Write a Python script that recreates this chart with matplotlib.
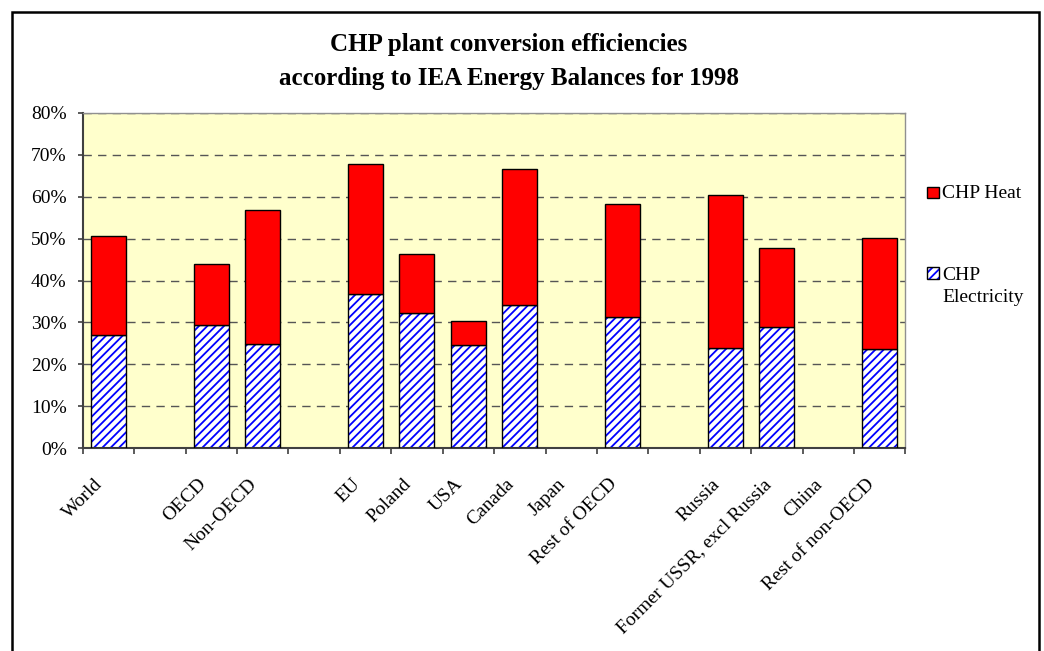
import numpy as np
import matplotlib
matplotlib.use("Agg")
import matplotlib.pyplot as plt
import matplotlib.transforms as mtransforms
from matplotlib.patches import Rectangle

# categories, blanks are the gaps between groups
categories = ["World", "", "OECD", "Non-OECD", "", "EU", "Poland", "USA", "Canada",
              "Japan", "Rest of OECD", "", "Russia", "Former USSR, excl Russia",
              "China", "Rest of non-OECD"]
# values in %, None = no bar
electricity = [27.0, None, 29.3, 24.9, None, 36.9, 32.3, 24.7, 34.2,
               None, 31.2, None, 23.8, 28.8, None, 23.6]
heat = [23.6, None, 14.6, 32.0, None, 30.9, 14.0, 5.6, 32.4,
        None, 27.1, None, 36.7, 19.0, None, 26.5]
y_ticks = [0, 10, 20, 30, 40, 50, 60, 70, 80]

W, H = 1044, 651
FS = 14
plt.rcParams["font.family"] = ["Liberation Serif", "DejaVu Serif"]
plt.rcParams["hatch.linewidth"] = 1.3


def fx(px):
    return px / W


def fy(py):
    return 1 - py / H


fig = plt.figure(figsize=(W / 100, H / 100), dpi=100)
ax = fig.add_axes([fx(82.7), fy(448.3), (905.5 - 82.7) / W, (448.3 - 112.7) / H])
ax.set_facecolor("#ffffcc")

x = np.arange(len(categories))
mask = np.array([v is not None for v in electricity])
xs = x[mask]
elec = np.array([v for v in electricity if v is not None])
ht = np.array([v for v in heat if v is not None])
width = 0.68

# hatched electricity part, drawn in two layers so the hatch is blue and the edge black
ax.bar(xs, elec, width, color="white", edgecolor="blue", hatch="////", linewidth=0, zorder=2)
ax.bar(xs, elec, width, fill=False, edgecolor="black", linewidth=1.0, zorder=3)
ax.bar(xs, ht, width, bottom=elec, color="red", edgecolor="black", linewidth=1.0, zorder=3)

ax.set_xlim(-0.5, len(categories) - 0.5)
ax.set_ylim(0, 80)
ax.set_yticks(y_ticks)
ax.set_yticklabels([f"{v}%" for v in y_ticks], fontsize=FS)
ax.yaxis.grid(True, color="#555555", linestyle=(0, (6, 4.5)), linewidth=1.0)
ax.set_axisbelow(True)

ax.set_xticks(x)
ax.set_xticklabels(categories, fontsize=FS, rotation=45, ha="right", va="center",
                   rotation_mode="anchor")
ax.tick_params(axis="x", which="major", length=0, pad=24)
shift = mtransforms.ScaledTranslation(-8 / 100, 0, fig.dpi_scale_trans)
for lbl in ax.get_xticklabels():
    lbl.set_transform(lbl.get_transform() + shift)
ax.set_xticks(np.arange(-0.5, len(categories), 1), minor=True)
ax.tick_params(axis="x", which="minor", length=4, width=1.2, color="#404040", direction="out")
ax.tick_params(axis="y", length=3.5, width=1.2, color="#404040", direction="out", pad=8)

for side in ["left", "bottom"]:
    ax.spines[side].set_color("#404040")
    ax.spines[side].set_linewidth(1.5)
for side in ["top", "right"]:
    ax.spines[side].set_color("#909090")
    ax.spines[side].set_linewidth(1.0)

# title
fig.text(fx(509), fy(50.5), "CHP plant conversion efficiencies", fontsize=18,
         fontweight="bold", ha="center", va="baseline")
fig.text(fx(509), fy(85.5), "according to IEA Energy Balances for 1998", fontsize=18,
         fontweight="bold", ha="center", va="baseline")

# legend drawn by hand so the marker sits on the first line of the label
fig.patches.append(Rectangle((fx(926.7), fy(198.3)), 12.6 / W, 11.6 / H, transform=fig.transFigure,
                             facecolor="red", edgecolor="black", linewidth=1.0))
fig.patches.append(Rectangle((fx(926.7), fy(279)), 12.6 / W, 12 / H, transform=fig.transFigure,
                             facecolor="white", edgecolor="blue", hatch="////", linewidth=0))
fig.patches.append(Rectangle((fx(926.7), fy(279)), 12.6 / W, 12 / H, transform=fig.transFigure,
                             fill=False, edgecolor="black", linewidth=1.0))
fig.text(fx(942), fy(197.7), "CHP Heat", fontsize=FS, va="baseline")
fig.text(fx(942), fy(280), "CHP", fontsize=FS, va="baseline")
fig.text(fx(942), fy(301.7), "Electricity", fontsize=FS, va="baseline")

# chart border
fig.patches.append(Rectangle((fx(12.2), fy(700)), (1038.5 - 12.2) / W, (700 - 12.2) / H,
                             transform=fig.transFigure, fill=False, edgecolor="black",
                             linewidth=1.8, clip_on=False))

fig.savefig("out.png", dpi=100)
